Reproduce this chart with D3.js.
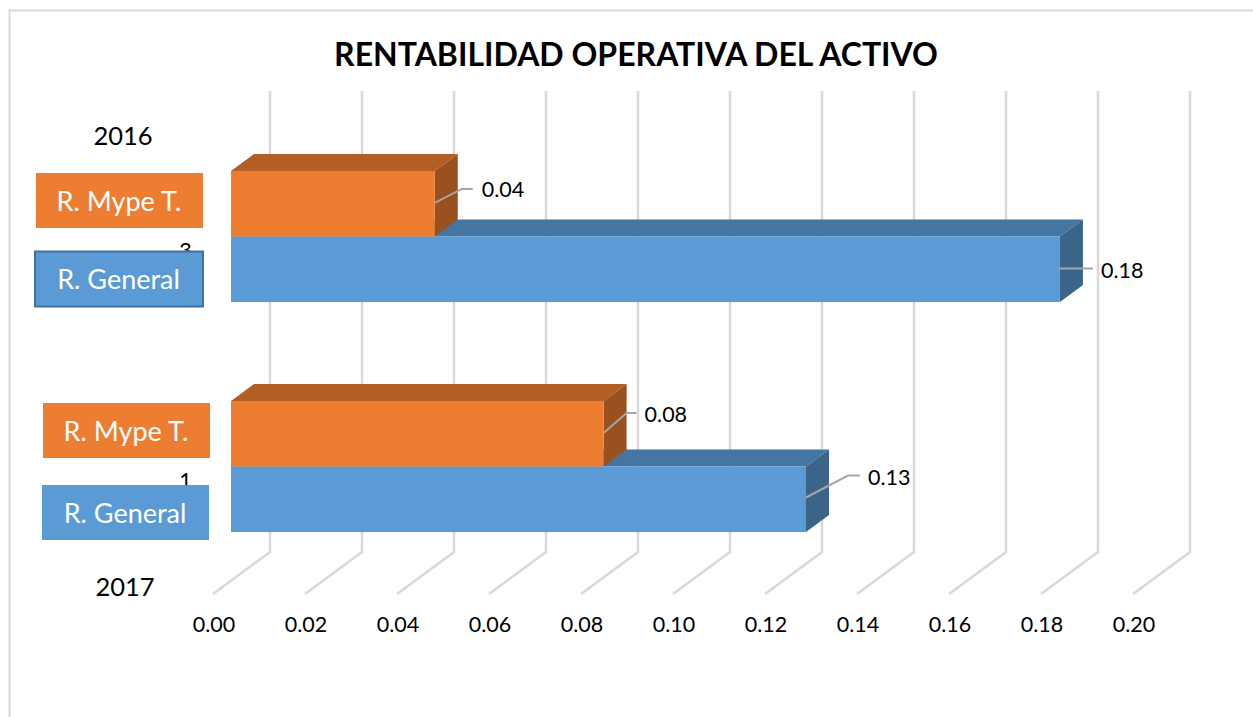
<!DOCTYPE html>
<html><head><meta charset="utf-8">
<script src="https://cdn.jsdelivr.net/npm/d3@7/dist/d3.min.js"></script>
<style>html,body{margin:0;padding:0;background:#fff;overflow:hidden}svg{display:block}text{font-family:Lato,"Open Sans",sans-serif}</style>
</head><body><svg id="c" width="1253" height="717"></svg>
<script>
const title = "RENTABILIDAD OPERATIVA DEL ACTIVO";
const categories = ["3", "1"];
const series = ["R. Mype T.", "R. General"];
const mypeValues = [0.0443, 0.081];
const generalValues = [0.1802, 0.125];
const xTicks = [0, 0.02, 0.04, 0.06, 0.08, 0.1, 0.12, 0.14, 0.16, 0.18, 0.2];
const yearLabels = ["2016", "2017"];

const svg = d3.select("#c");
const colors = {
  "R. Mype T.": {front:"#ED7D31", top:"#B35E24", side:"#9A5120"},
  "R. General": {front:"#5B9BD5", top:"#4575A1", side:"#3A6589"}
};
const x = d3.scaleLinear().domain([0, 0.2]).range([231, 1151]);
const y = d3.scaleBand().domain(categories).range([121.5, 581.5]).paddingInner(0.43).paddingOuter(0.215);
const ySub = d3.scaleBand().domain(series).range([0, y.bandwidth()]);
const depthX = 23, depthY = 17;
const wallX = 39, wallTop = 91, wallBottom = 552, floorX = -18, floorY = 594;

// outer frame
svg.append("path").attr("d","M9.5,717V10.5H1253").attr("fill","none").attr("stroke","#d9d9d9").attr("stroke-width",2);

// title
svg.append("text").attr("x",636).attr("y",66).attr("text-anchor","middle")
  .attr("font-size",32).attr("font-weight",700).attr("fill","#000").text(title);

// gridlines on wall and floor
svg.append("g").selectAll("path").data(xTicks).join("path")
  .attr("fill","none").attr("stroke","#d9d9d9").attr("stroke-width",2.5)
  .attr("d",d=>{const a=x(d)+wallX,b=x(d)+floorX;return `M${a},${wallTop}V${wallBottom}L${b},${floorY}`;});

// value axis
const axis = d3.axisBottom(x).tickValues(xTicks).tickFormat(d3.format(".2f")).tickSize(0).tickPadding(0);
const axG = svg.append("g").attr("transform",`translate(${floorX+0.5},617)`).call(axis);
axG.select(".domain").remove();
axG.selectAll("text").attr("font-size",21.5).attr("font-family","Lato").attr("fill","#000");

// category labels (mostly hidden by the text boxes)
svg.append("g").selectAll("text").data(categories).join("text")
  .attr("x",185.5).attr("y",d=>y(d)+y.bandwidth()/2+21)
  .attr("text-anchor","middle").attr("font-size",21.5).attr("fill","#000").text(d=>d);

// bars: General drawn first so Mype sits on top of it
const rows = [];
categories.forEach((c,i)=>{
  rows.push({c,s:"R. General",v:generalValues[i]});
  rows.push({c,s:"R. Mype T.",v:mypeValues[i]});
});
const bar = svg.append("g").selectAll("g").data(rows).join("g");
const top_ = d=>y(d.c)+ySub(d.s), bot = d=>top_(d)+ySub.bandwidth();
bar.append("path").attr("fill",d=>colors[d.s].top)
  .attr("d",d=>`M${x(0)},${top_(d)}l${depthX},${-depthY}H${x(d.v)+depthX}l${-depthX},${depthY}Z`);
bar.append("path").attr("fill",d=>colors[d.s].side)
  .attr("d",d=>`M${x(d.v)},${top_(d)}l${depthX},${-depthY}V${bot(d)-depthY}l${-depthX},${depthY}Z`);
bar.append("rect").attr("fill",d=>colors[d.s].front)
  .attr("x",x(0)).attr("y",top_).attr("width",d=>x(d.v)-x(0)).attr("height",ySub.bandwidth());

// leader offsets per point
const leaders = [
  {dy:32,ex:27,ey:14,end:38,gx:9,gy:8},
  {dy:32,ex:28,ey:0,end:33,gx:8,gy:9},
  {dy:32,ex:23,ey:20,end:33,gx:8,gy:9},
  {dy:31,ex:42,ey:22,end:54,gx:8,gy:9}
];
const order = [
  {c:"3",s:"R. Mype T.",v:mypeValues[0],l:leaders[0]},
  {c:"3",s:"R. General",v:generalValues[0],l:leaders[1]},
  {c:"1",s:"R. Mype T.",v:mypeValues[1],l:leaders[2]},
  {c:"1",s:"R. General",v:generalValues[1],l:leaders[3]}
];
const lab = svg.append("g").selectAll("g").data(order).join("g");
lab.append("path").attr("fill","none").attr("stroke","#a6a6a6").attr("stroke-width",2)
  .attr("d",d=>{const x0=x(d.v),y0=top_(d)+d.l.dy;return `M${x0},${y0}L${x0+d.l.ex},${y0-d.l.ey}H${x0+d.l.end}`;});
lab.append("text").attr("x",d=>x(d.v)+d.l.end+d.l.gx).attr("y",d=>top_(d)+d.l.dy-d.l.ey+d.l.gy)
  .attr("font-size",21.5).attr("fill","#000").text(d=>d3.format(".2f")(d.v));

// text boxes
const boxes = [
  {t:series[0],x:36,y:173,w:167,h:55,fill:colors[series[0]].front},
  {t:series[1],x:35,y:251.5,w:168,h:55,fill:colors[series[1]].front,stroke:"#41719C"},
  {t:series[0],x:43,y:403,w:167,h:55,fill:colors[series[0]].front},
  {t:series[1],x:42,y:485,w:167,h:55,fill:colors[series[1]].front}
];
const bx = svg.append("g").selectAll("g").data(boxes).join("g");
bx.append("rect").attr("x",d=>d.x).attr("y",d=>d.y).attr("width",d=>d.w).attr("height",d=>d.h)
  .attr("fill",d=>d.fill).attr("stroke",d=>d.stroke||"none").attr("stroke-width",2);
bx.append("text").attr("x",d=>d.x+d.w/2-0.5).attr("y",d=>d.y+d.h/2+10).attr("text-anchor","middle")
  .attr("font-size",27).attr("fill","#fff").text(d=>d.t);

// year text boxes
svg.append("g").selectAll("text").data(yearLabels).join("text")
  .attr("x",(d,i)=>[123,125][i]).attr("y",(d,i)=>[145,596][i]).attr("text-anchor","middle")
  .attr("font-size",25.5).attr("fill","#000").text(d=>d);
</script></body></html>
